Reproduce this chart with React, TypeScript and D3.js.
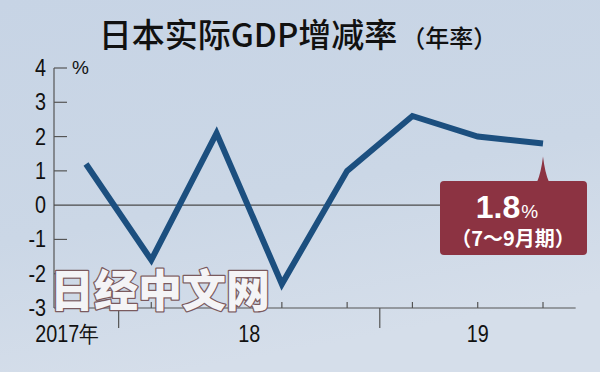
import React from "react";
import * as d3 from "d3";

// quarterly real GDP growth, annualized (%)
const quarters = ["2017Q4", "2018Q1", "2018Q2", "2018Q3", "2018Q4", "2019Q1", "2019Q2", "2019Q3"];
const growth = [1.2, -1.6, 2.1, -2.3, 1.0, 2.6, 2.0, 1.8];
const yTicks = [-3, -2, -1, 0, 1, 2, 3, 4];
const years = ["2017", "2018", "2019"];
const yearLabels = ["2017年", "18", "19"];
const title = "日本实际GDP增减率";
const titleSub = "（年率）";
const calloutValue = "1.8";
const calloutPeriod = "（7～9月期）";

const W = 600, H = 372;
const NUM_FONT = "'Liberation Sans', Arial, sans-serif";
const CJK_FONT = "'Noto Sans CJK SC', 'Noto Sans CJK JP', sans-serif";
const NARROW = 0.86; // fake a condensed face

export default function App() {
  const x = d3.scaleLinear().domain([0, quarters.length - 1]).range([86, 543]);
  const y = d3.scaleLinear().domain([-3, 4]).range([308, 68]);
  const axisX = 54;
  const axisEnd = x(quarters.length - 0.5);

  const line = d3.line<number>()
    .x((d, i) => x(i))
    .y(d => y(d));

  // year boundaries = half way between last quarter of a year and first of next
  const yearOf = (q: string) => q.slice(0, 4);
  const boundaries: number[] = [];
  quarters.forEach((q, i) => {
    if (i > 0 && yearOf(q) !== yearOf(quarters[i - 1])) boundaries.push(i - 0.5);
  });

  const last = growth.length - 1;
  const px = x(last), py = y(growth[last]);
  const box = { x0: 440, x1: 587, y0: 181, y1: 255 };

  return (
    <svg width={W} height={H} style={{ position: "absolute", left: 0, top: 0 }}>
      <defs>
        <linearGradient id="bg" x1="0" y1="0" x2="0.3" y2="1">
          <stop offset="0" stopColor="#c7d4e5" />
          <stop offset="0.6" stopColor="#cbd7e6" />
          <stop offset="1" stopColor="#d5deea" />
        </linearGradient>
      </defs>
      <rect width={W} height={H} fill="url(#bg)" />

      {/* title */}
      <text x={298} y={47} textAnchor="middle" fontFamily={CJK_FONT} fill="#111">
        <tspan fontSize={33} fontWeight={500}>{title}</tspan>
        <tspan fontSize={24} dx={4} fontWeight={500}>{titleSub}</tspan>
      </text>

      {/* y axis */}
      <line x1={axisX} x2={axisX} y1={y(4)} y2={y(-3)} stroke="#555" strokeWidth={1.2} />
      {yTicks.map(t => (
        <g key={t}>
          {t !== -3 && t !== 0 && (
            <line x1={axisX} x2={axisX + 13} y1={y(t)} y2={y(t)} stroke="#555" strokeWidth={1.2} />
          )}
          <text transform={`translate(46,${y(t) + 8}) scale(${NARROW},1)`} textAnchor="end"
            fontFamily={NUM_FONT} fontSize={23} fill="#111">
            {t}
          </text>
        </g>
      ))}
      <text x={72} y={y(4) + 6} fontFamily={NUM_FONT} fontSize={19} fill="#111">%</text>

      {/* zero line stops at the callout */}
      <line x1={axisX} x2={box.x0} y1={y(0)} y2={y(0)} stroke="#4a4a4a" strokeWidth={1.2} />

      {/* x axis */}
      <line x1={axisX} x2={axisEnd} y1={y(-3)} y2={y(-3)} stroke="#555" strokeWidth={1.2} />
      {quarters.map((q, i) => (
        <line key={q} x1={x(i)} x2={x(i)} y1={y(-3)} y2={y(-3) - 6} stroke="#555" strokeWidth={1.2} />
      ))}
      {boundaries.map(b => (
        <line key={b} x1={x(b)} x2={x(b)} y1={y(-3)} y2={y(-3) + 20} stroke="#555" strokeWidth={1.2} />
      ))}
      {years.map((yr, k) => {
        const idx = quarters.map((q, i) => (yearOf(q) === yr ? i : -1)).filter(i => i >= 0);
        const mid = d3.mean(idx) as number;
        const tx = k === 0 ? x(boundaries[0]) - 20 : x(mid);
        return (
          <text key={yr} transform={`translate(${tx},342) scale(${NARROW},1)`}
            textAnchor={k === 0 ? "end" : "middle"} fontFamily={NUM_FONT} fontSize={23} fill="#111">
            {yearLabels[k]}
          </text>
        );
      })}

      {/* series */}
      <path d={line(growth) || ""} fill="none" stroke="#1c4f7f" strokeWidth={6} strokeLinejoin="miter" />

      {/* callout */}
      <path
        d={`M${px - 6},${box.y0 + 1} Q${px - 2},${box.y0 - 8} ${px},${py + 13} Q${px + 2},${box.y0 - 8} ${px + 6},${box.y0 + 1} Z`}
        fill="#8c3342"
      />
      <rect x={box.x0} y={box.y0} width={box.x1 - box.x0} height={box.y1 - box.y0} rx={4} fill="#8c3342" />
      <text x={507} y={218} textAnchor="middle" fill="#fff" fontFamily="'Liberation Sans', Arial, sans-serif" fontWeight="bold">
        <tspan fontSize={32}>{calloutValue}</tspan>
        <tspan fontSize={19} dx={1} fontWeight="normal">%</tspan>
      </text>
      <text x={513} y={246} textAnchor="middle" fill="#fff" fontFamily={CJK_FONT} fontWeight={700} fontSize={20}>
        {calloutPeriod}
      </text>

      {/* watermark */}
      <text x={50} y={307} fontFamily={CJK_FONT} fontWeight={900} fontSize={44} fill="#f4f4f6"
        stroke="#7a5a5e" strokeWidth={2.5} paintOrder="stroke" strokeLinejoin="round">
        日经中文网
      </text>
    </svg>
  );
}
